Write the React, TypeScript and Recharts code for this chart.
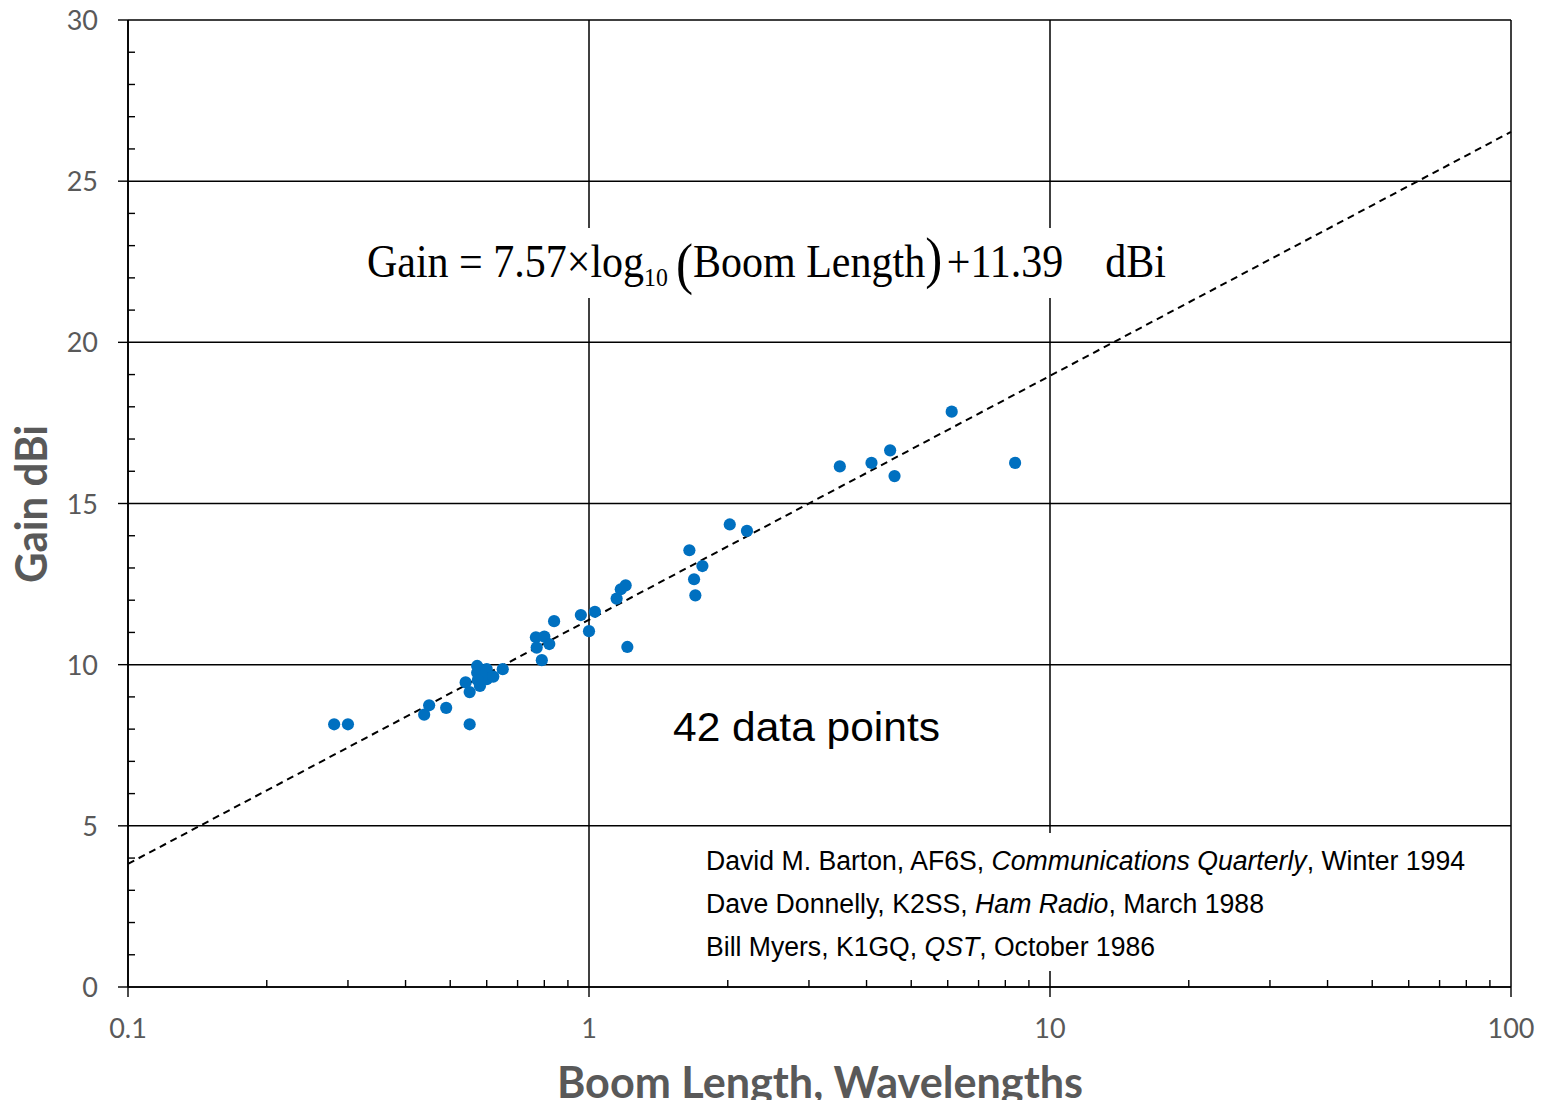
import React from 'react';
import { ScatterChart, Scatter, XAxis, YAxis, CartesianGrid, ReferenceLine } from 'recharts';

// Measured Yagi designs: boom length (wavelengths) and gain (dBi)
const boomLength = [
  0.28, 0.3, 0.439, 0.45, 0.49, 0.551, 0.54, 0.551, 0.572, 0.572, 0.6, 0.58, 0.6, 0.62,
  0.65, 0.767, 0.8, 0.82, 0.77, 0.79, 0.84, 0.96, 1.03, 1.0, 1.148, 1.172, 1.201, 1.211,
  1.651, 1.762, 1.69, 1.701, 2.02, 2.201, 3.5, 4.1, 4.5, 4.6, 6.12, 8.4, 0.586, 0.574,
];
const gainDbi = [
  8.15, 8.15, 8.45, 8.74, 8.66, 8.15, 9.45, 9.15, 9.96, 9.75, 9.86, 9.34, 9.55, 9.63,
  9.86, 10.85, 10.87, 10.64, 10.53, 10.14, 11.35, 11.54, 11.64, 11.04, 12.05, 12.34, 12.46, 10.55,
  13.55, 13.06, 12.65, 12.15, 14.35, 14.15, 16.15, 16.26, 16.65, 15.85, 17.85, 16.26, 9.65, 9.52,
];

// Least-squares fit coefficients
const fitSlope = 7.57;
const fitIntercept = 11.39;

const xMajorTicks = [0.1, 1, 10, 100];
const xMinorTicks = [
  0.2, 0.3, 0.4, 0.5, 0.6, 0.7, 0.8, 0.9,
  2, 3, 4, 5, 6, 7, 8, 9,
  20, 30, 40, 50, 60, 70, 80, 90,
];
const yMajorTicks = [0, 5, 10, 15, 20, 25, 30];
const yMinorTicks = [1, 2, 3, 4, 6, 7, 8, 9, 11, 12, 13, 14, 16, 17, 18, 19, 21, 22, 23, 24, 26, 27, 28, 29];

const xDomain = [0.1, 100];
const yDomain = [0, 30];

const xAllTicks = [...xMajorTicks, ...xMinorTicks].sort((a, b) => a - b);
const yAllTicks = [...yMajorTicks, ...yMinorTicks].sort((a, b) => a - b);

const points = boomLength.map((x, i) => ({ x, y: gainDbi[i] }));
const fitAt = (x: number) => fitSlope * Math.log10(x) + fitIntercept;

const AXIS_GRAY = '#595959';
const DOT_BLUE = '#0070C0';
const TICK_FONT = 'Lato, "Open Sans", sans-serif';

const Dot = (props: any) => <circle cx={props.cx} cy={props.cy} r={6.1} fill={DOT_BLUE} />;

// Bottom axis tick: major ticks point outward with a label, minor ticks point into the plot
const XTick = (props: any) => {
  const { x, y, payload } = props;
  const major = xMajorTicks.includes(payload.value);
  return (
    <g>
      <line x1={x} x2={x} y1={y} y2={major ? y + 10 : y - 7} stroke="#000" strokeWidth={1.4} />
      {major && (
        <text x={x} y={y + 51} textAnchor="middle" fill={AXIS_GRAY} fontSize={27} fontFamily={TICK_FONT}>
          {String(payload.value)}
        </text>
      )}
    </g>
  );
};

// Left axis tick: same convention as the bottom axis
const YTick = (props: any) => {
  const { x, y, payload } = props;
  const major = yMajorTicks.includes(payload.value);
  return (
    <g>
      <line x1={major ? x - 10 : x} x2={major ? x : x + 7} y1={y} y2={y} stroke="#000" strokeWidth={1.4} />
      {major && (
        <text x={x - 30} y={y + 10} textAnchor="end" fill={AXIS_GRAY} fontSize={27} fontFamily={TICK_FONT}>
          {String(payload.value)}
        </text>
      )}
    </g>
  );
};

export default function App() {
  return (
    <div style={{ width: 1541, height: 1100, marginBottom: -8, fontFamily: TICK_FONT }}>
      <ScatterChart
        width={1541}
        height={1100}
        margin={{ top: 12, right: 38, bottom: 0, left: 0 }}
        style={{ overflow: 'visible' }}
      >
        <CartesianGrid
          stroke="#000"
          strokeWidth={1.5}
          horizontalValues={yMajorTicks}
          verticalValues={xMajorTicks}
        />
        <XAxis
          dataKey="x"
          type="number"
          scale="log"
          domain={xDomain}
          allowDataOverflow
          ticks={xAllTicks}
          interval={0}
          height={121}
          tickSize={0}
          tickMargin={0}
          tickLine={false}
          axisLine={{ stroke: '#000', strokeWidth: 1.7 }}
          tick={<XTick />}
        />
        <YAxis
          dataKey="y"
          type="number"
          domain={yDomain}
          allowDataOverflow
          ticks={yAllTicks}
          interval={0}
          width={120}
          tickSize={0}
          tickMargin={0}
          tickLine={false}
          axisLine={{ stroke: '#000', strokeWidth: 1.7 }}
          tick={<YTick />}
        />

        {/* white backing boxes for the annotations */}
        <rect x={352} y={220} width={815} height={70} fill="#fff" />
        <rect x={687} y={825} width={780} height={138} fill="#fff" />

        <ReferenceLine
          segment={[
            { x: xDomain[0], y: fitAt(xDomain[0]) },
            { x: xDomain[1], y: fitAt(xDomain[1]) },
          ]}
          stroke="#000"
          strokeWidth={2}
          strokeDasharray="7 5"
          ifOverflow="visible"
        />

        <Scatter data={points} shape={Dot} isAnimationActive={false} />

        {/* fit equation */}
        <text
          x={359}
          y={269}
          fontFamily='"Liberation Serif", "Times New Roman", serif'
          fontSize={46}
          fill="#000"
          textLength={799}
          lengthAdjust="spacingAndGlyphs"
        >
          <tspan>Gain = 7.57×log</tspan>
          <tspan fontSize={26} dy={9}>10</tspan>
          <tspan fontSize={56} dy={-3} dx={9}>(</tspan>
          <tspan fontSize={46} dy={-6}>Boom Length</tspan>
          <tspan fontSize={56}>)</tspan>
          <tspan fontSize={46} dx={5}>+11.39{'\u00A0\u00A0\u00A0\u00A0'}dBi</tspan>
        </text>

        <text
          x={665}
          y={733}
          fontFamily='"Liberation Sans", Arial, sans-serif'
          fontSize={40}
          fill="#000"
          textLength={267}
          lengthAdjust="spacingAndGlyphs"
        >
          42 data points
        </text>

        <g fontFamily='"Liberation Sans", Arial, sans-serif' fontSize={27} fill="#000">
          <text x={698} y={862} textLength={759} lengthAdjust="spacingAndGlyphs">
            David M. Barton, AF6S, <tspan fontStyle="italic">Communications Quarterly</tspan>, Winter 1994
          </text>
          <text x={698} y={905} textLength={558} lengthAdjust="spacingAndGlyphs">
            Dave Donnelly, K2SS, <tspan fontStyle="italic">Ham Radio</tspan>, March 1988
          </text>
          <text x={698} y={948} textLength={449} lengthAdjust="spacingAndGlyphs">
            Bill Myers, K1GQ, <tspan fontStyle="italic">QST</tspan>, October 1986
          </text>
        </g>

        {/* axis titles */}
        <text
          x={812}
          y={1090}
          textAnchor="middle"
          fontFamily="Lato, sans-serif"
          fontWeight="bold"
          fontSize={43}
          fill={AXIS_GRAY}
          textLength={526}
          lengthAdjust="spacingAndGlyphs"
        >
          Boom Length, Wavelengths
        </text>
        <text
          x={39}
          y={496}
          transform="rotate(-90 39 496)"
          textAnchor="middle"
          fontFamily="Lato, sans-serif"
          fontWeight="bold"
          fontSize={43}
          fill={AXIS_GRAY}
          textLength={158}
          lengthAdjust="spacingAndGlyphs"
        >
          Gain dBi
        </text>
      </ScatterChart>
    </div>
  );
}
